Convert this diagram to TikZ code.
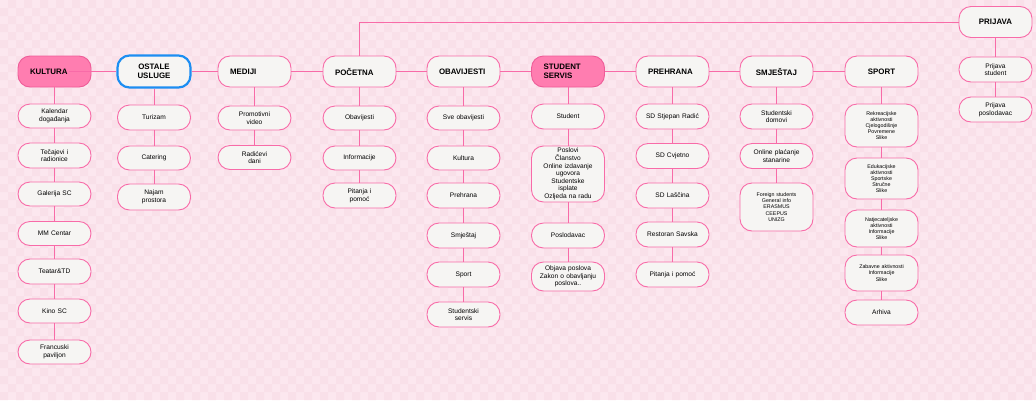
\documentclass[tikz,border=0pt]{standalone}
\usepackage{fontspec}
\setmainfont{Liberation Sans}
\definecolor{bgA}{HTML}{FCE7EF}
\definecolor{bgB}{HTML}{F9E0E9}
\definecolor{pk}{HTML}{F86BA8}
\definecolor{pkfill}{HTML}{FF7DB0}
\definecolor{pkdraw}{HTML}{EE5C98}
\definecolor{boxc}{HTML}{F6F5F3}
\definecolor{blu}{HTML}{1C8EF2}
\begin{document}
\begin{tikzpicture}[x=1pt,y=-1pt,
 base/.style={rectangle, rounded corners=12pt, minimum width=73pt, fill=boxc, draw=pk, line width=0.9pt, inner xsep=0pt, inner ysep=0pt, align=center, text width=70pt},
 item/.style={base, minimum height=25pt, font=\fontsize{6.6}{7.6}\selectfont},
 tinybox/.style={base, font=\fontsize{5.3}{6.1}\selectfont},
 head/.style={base, minimum height=31pt, font=\fontsize{7.9}{8.8}\selectfont\bfseries, text width=49pt, inner xsep=12pt},
 headl/.style={head, align=left},
 hot/.style={fill=pkfill, draw=pkdraw},
 conn/.style={draw=pk, line width=0.9pt}
]
\useasboundingbox (0,0) rectangle (1036,400);
\begin{scope}
\clip (0,0) rectangle (1036,400);
\fill[bgA] (0,0) rectangle (1036,400);
\fill[bgB] \foreach \j in {0,2,...,48}{ \foreach \i in {1,3,...,129}{ (\i*8,\j*8) rectangle ++(8,8) } };
\fill[bgB] \foreach \j in {1,3,...,49}{ \foreach \i in {0,2,...,128}{ (\i*8,\j*8) rectangle ++(8,8) } };
\end{scope}

% top row
\node[headl,hot] (kultura) at (54.5,71.5) {KULTURA};
\node[head,draw=blu,line width=2.2pt,minimum height=32pt] (ostale) at (154,71.5) {OSTALE\\USLUGE};
\node[headl] (mediji) at (254.5,71.5) {MEDIJI};
\node[headl] (pocetna) at (359.5,71.5) {POČETNA};
\node[headl] (obav) at (463.5,71.5) {OBAVIJESTI};
\node[headl,hot] (ss) at (568,71.5) {STUDENT\\SERVIS};
\node[headl] (preh) at (672.5,71.5) {PREHRANA};
\node[head] (smj) at (776.5,71.5) {SMJEŠTAJ};
\node[head] (sport) at (881.5,71.5) {SPORT};
\node[head] (prij) at (995.5,22) {PRIJAVA};

% KULTURA column
\node[item,minimum height=24pt] (k1) at (54.5,116) {Kalendar\\događanja};
\node[item] (k2) at (54.5,155.5) {Tečajevi i\\radionice};
\node[item,minimum height=24pt] (k3) at (54.5,194) {Galerija SC};
\node[item,minimum height=24pt] (k4) at (54.5,233.5) {MM Centar};
\node[item] (k5) at (54.5,271.5) {Teatar\&TD};
\node[item,minimum height=24pt] (k6) at (54.5,311) {Kino SC};
\node[item,minimum height=24pt] (k7) at (54.5,352) {Francuski\\paviljon};

% OSTALE USLUGE column
\node[item] (o1) at (154,117.5) {Turizam};
\node[item,minimum height=24pt] (o2) at (154,158) {Catering};
\node[item,minimum height=26pt] (o3) at (154,197) {Najam\\prostora};

% MEDIJI column
\node[item,minimum height=24pt] (m1) at (254.5,118) {Promotivni\\video};
\node[item,minimum height=24pt] (m2) at (254.5,157.5) {Radićevi\\dani};

% POCETNA column
\node[item,minimum height=24pt] (p1) at (359.5,118) {Obavijesti};
\node[item,minimum height=24pt] (p2) at (359.5,158) {Informacije};
\node[item] (p3) at (359.5,195.5) {Pitanja i\\pomoć};

% OBAVIJESTI column
\node[item,minimum height=24pt] (b1) at (463.5,118) {Sve obavijesti};
\node[item,minimum height=24pt] (b2) at (463.5,158) {Kultura};
\node[item] (b3) at (463.5,195.5) {Prehrana};
\node[item] (b4) at (463.5,235.5) {Smještaj};
\node[item] (b5) at (463.5,274.5) {Sport};
\node[item] (b6) at (463.5,314.5) {Studentski\\servis};

% STUDENT SERVIS column
\node[item] (s1) at (568,116.5) {Student};
\node[item,minimum height=56pt] (s2) at (568,174) {Poslovi\\Članstvo\\Online izdavanje\\ugovora\\Studentske\\isplate\\Ozljeda na radu};
\node[item] (s3) at (568,235.5) {Poslodavac};
\node[item,minimum height=29pt] (s4) at (568,276.5) {Objava poslova\\Zakon o obavljanju\\poslova..};

% PREHRANA column
\node[item] (r1) at (672.5,116.5) {SD Stjepan Radić};
\node[item] (r2) at (672.5,156) {SD Cvjetno};
\node[item] (r3) at (672.5,195.5) {SD Laščina};
\node[item] (r4) at (672.5,234.5) {Restoran Savska};
\node[item] (r5) at (672.5,274.5) {Pitanja i pomoć};

% SMJESTAJ column
\node[item] (j1) at (776.5,116.5) {Studentski\\domovi};
\node[item] (j2) at (776.5,156) {Online plaćanje\\stanarine};
\node[tinybox,minimum height=48pt] (j3) at (776.5,207) {Foreign students\\General info\\ERASMUS\\CEEPUS\\UNIZG};

% SPORT column
\node[tinybox,minimum height=43pt] (t1) at (881.5,125.5) {Rekreacijske\\aktivnosti\\Cjelogodišnje\\Povremene\\Slike};
\node[tinybox,minimum height=41pt] (t2) at (881.5,178.5) {Edukacijske\\aktivnosti\\Sportske\\Stručne\\Slike};
\node[tinybox,minimum height=37pt] (t3) at (881.5,228.5) {Natjecateljske\\aktivnosti\\Informacije\\Slike};
\node[tinybox,minimum height=36pt] (t4) at (881.5,273) {Zabavne aktivnosti\\Informacije\\Slike};
\node[item] (t5) at (881.5,312.5) {Arhiva};

% PRIJAVA column
\node[item] (v1) at (995.5,69.5) {Prijava\\student};
\node[item] (v2) at (995.5,109.5) {Prijava\\poslodavac};

% connectors
\coordinate (kin) at (69,71.5);
\draw[conn] (kin) -- (ostale.west);
\foreach \a/\b in {ostale/mediji,mediji/pocetna,pocetna/obav,obav/ss,ss/preh,preh/smj,smj/sport}
  \draw[conn] (\a.east) -- (\b.west);
\draw[conn] (pocetna.north) |- (prij.west);
\foreach \a/\b in {kultura/k1,k1/k2,k2/k3,k3/k4,k4/k5,k5/k6,k6/k7,
  ostale/o1,o1/o2,o2/o3,
  mediji/m1,m1/m2,
  pocetna/p1,p1/p2,p2/p3,
  obav/b1,b1/b2,b2/b3,b3/b4,b4/b5,b5/b6,
  ss/s1,s1/s2,s2/s3,s3/s4,
  preh/r1,r1/r2,r2/r3,r3/r4,r4/r5,
  smj/j1,j1/j2,j2/j3,
  sport/t1,t1/t2,t2/t3,t3/t4,t4/t5,
  prij/v1,v1/v2}
  \draw[conn] (\a.south) -- (\b.north);
\end{tikzpicture}
\end{document}
